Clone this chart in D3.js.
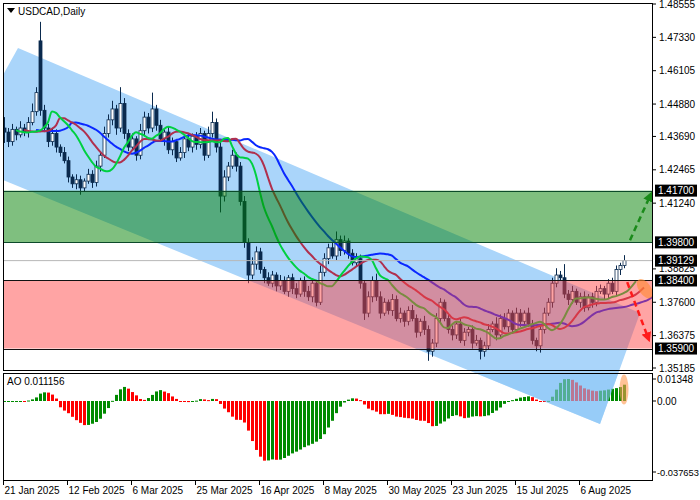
<!DOCTYPE html>
<html><head><meta charset="utf-8">
<script src="https://cdn.jsdelivr.net/npm/d3@7"></script>
<style>body{margin:0;background:#fff}svg{display:block;font-family:"Liberation Sans",Arial,sans-serif}</style>
</head><body>
<script>
// daily closes, 21 Jan 2025 onwards
var closes = [
 1.4385,1.4350,1.4395,1.4375,1.4400,1.4385,1.4420,1.4460,1.4530,1.4465,1.4400,1.4350,
 1.4380,1.4330,1.4310,1.4280,1.4220,1.4195,1.4210,1.4180,1.4205,1.4230,1.4200,1.4260,
 1.4300,1.4380,1.4430,1.4470,1.4400,1.4490,1.4380,1.4330,1.4360,1.4300,1.4390,1.4440,
 1.4400,1.4470,1.4410,1.4360,1.4385,1.4320,1.4350,1.4290,1.4310,1.4360,1.4330,1.4370,
 1.4340,1.4380,1.4300,1.4380,1.4420,1.4330,1.4150,1.4220,1.4260,1.4300,1.4260,1.4130,
 1.3980,1.3860,1.3900,1.3945,1.3880,1.3850,1.3830,1.3860,1.3820,1.3840,1.3800,1.3850,
 1.3810,1.3790,1.3840,1.3800,1.3780,1.3830,1.3760,1.3870,1.3920,1.3960,1.3930,1.3990,
 1.3950,1.3985,1.3940,1.3905,1.3920,1.3830,1.3720,1.3780,1.3840,1.3780,1.3720,1.3760,
 1.3730,1.3770,1.3700,1.3720,1.3690,1.3730,1.3700,1.3650,1.3690,1.3660,1.3580,1.3610,
 1.3700,1.3760,1.3700,1.3660,1.3640,1.3680,1.3620,1.3650,1.3660,1.3610,1.3620,1.3580,
 1.3600,1.3660,1.3680,1.3640,1.3700,1.3670,1.3720,1.3660,1.3720,1.3690,1.3720,1.3680,
 1.3620,1.3600,1.3660,1.3720,1.3760,1.3830,1.3860,1.3850,1.3790,1.3770,1.3800,1.3760,
 1.3780,1.3740,1.3780,1.3760,1.3800,1.3810,1.3790,1.3830,1.3800,1.3880,1.3895,1.3913
];
// wick lengths in pips (0.0001)
var wickUp = [
 40,15,20,10,25,15,20,30,20,70,20,15, 20,15,10,20,15,10,20,15,10,20,15,20,
 15,25,20,30,15,60,20,15,20,10,25,20, 15,60,15,20,10,20,15,10,20,15,20,10,
 15,20,10,25,40,15,20,25,15,20,10,15, 20,15,25,20,15,10,20,15,10,20,15,10,
 15,20,10,15,20,15,10,25,20,15,20,30, 15,20,10,15,20,15,10,20,15,25,20,15,
 10,20,15,20,10,15,20,15,10,20,15,15, 20,15,10,20,15,10,20,15,10,15,20,10,
 15,20,10,25,15,20,15,10,20,15,10,20, 15,10,15,20,15,20,25,15,50,15,20,10,
 15,20,10,15,20,15,10,15,20,15,10,20
];
var wickDn = [
 40,20,15,20,10,15,20,10,15,20,15,20, 15,20,15,10,20,15,20,25,15,10,20,15,
 20,10,15,20,25,15,20,15,10,20,15,20, 20,15,20,10,25,15,20,15,10,20,15,20,
 20,15,20,10,15,20,60,20,15,10,20,15, 20,30,15,20,15,20,10,15,20,15,10,20,
 20,15,10,20,15,20,15,10,15,20,10,15, 20,15,20,10,15,20,25,15,20,15,20,10,
 15,20,10,15,20,15,10,20,15,20,35,20, 15,20,10,15,20,15,10,20,15,20,10,30,
 20,15,10,20,15,10,20,15,10,20,15,10, 15,20,25,15,10,20,15,10,15,20,15,10,
 20,15,10,20,15,10,20,15,10,15,20,10
];
var openGaps = {0: 1.4400, 9: 1.4720};

var priceTicks = [1.48555,1.47330,1.46105,1.44880,1.43690,1.42465,1.41240,1.38825,1.37600,1.36375,1.35185];
var levels = [1.41700, 1.39800, 1.38400, 1.35900];
var lastPrice = 1.39129;
var aoTicks = [[0.01348,"0.01348"],[0,"0.00"],[-0.037653,"-0.037653"]];
var dateTicks = [[0,"21 Jan 2025"],[16,"12 Feb 2025"],[32,"6 Mar 2025"],[48,"25 Mar 2025"],[64,"16 Apr 2025"],
  [80,"8 May 2025"],[96,"30 May 2025"],[112,"23 Jun 2025"],[128,"15 Jul 2025"],[144,"6 Aug 2025"]];
// channel drawn as [bar, price]
var channel = [[-0.25,1.45947],[3.5,1.46939],[159,1.37205],[149,1.33128],[-0.25,1.42090]];

var bars = closes.map(function(c,i){
  var o = openGaps[i] !== undefined ? openGaps[i] : closes[i-1];
  return {i:i, o:o, c:c, h:Math.max(o,c)+wickUp[i]/10000, l:Math.min(o,c)-wickDn[i]/10000};
});
var med = bars.map(function(b){ return (b.h+b.l)/2; });

function smma(n){ var r=[], v=med[0]; med.forEach(function(m,i){ v = i ? (v*(n-1)+m)/n : m; r.push(v); }); return r; }
function sma(n){ return med.map(function(m,i){ var s=med.slice(Math.max(0,i-n+1),i+1); return d3.mean(s); }); }
var jaw = smma(13), teeth = smma(8), lips = smma(5);
var s5 = sma(5), s34 = sma(34);
var ao = med.map(function(m,i){ return s5[i]-s34[i]; });

var W=700,H=500, L=3, R=652, T=3, B=370, aoT=373, aoB=480;
var svg = d3.select("body").append("svg").attr("width",W).attr("height",H);
var x = d3.scaleLinear().domain([0,155]).range([4,624]);
var y = d3.scaleLinear().domain([1.35185,1.48555]).range([368,4]);
var ya = d3.scaleLinear().domain([0,0.01348]).range([401,379]);
var chLine = d3.line().x(function(d){return x(d[0]);}).y(function(d){return y(d[1]);}).curve(d3.curveLinearClosed);

var defs = svg.append("defs");
defs.append("clipPath").attr("id","cm").append("rect").attr("x",L).attr("y",T).attr("width",R-L).attr("height",B-T);
defs.append("clipPath").attr("id","ca").append("rect").attr("x",L).attr("y",aoT).attr("width",R-L).attr("height",H-aoT);

// channel under price marks
svg.append("path").datum(channel).attr("fill","#aad5fa").attr("d",chLine);

var mg = svg.append("g").attr("clip-path","url(#cm)");
var cg = mg.selectAll("g.c").data(bars).enter().append("g");
cg.append("line").attr("x1",function(d){return x(d.i)+0.5;}).attr("x2",function(d){return x(d.i)+0.5;})
  .attr("y1",function(d){return y(d.h);}).attr("y2",function(d){return y(d.l);}).attr("stroke","#0a2a4e");
cg.append("rect").attr("x",function(d){return x(d.i)-1;}).attr("width",3)
  .attr("y",function(d){return y(Math.max(d.o,d.c));})
  .attr("height",function(d){return Math.max(1,Math.abs(y(d.o)-y(d.c)));})
  .attr("fill",function(d){return d.c>=d.o?"#fff":"#0a2a4e";}).attr("stroke","#0a2a4e").attr("stroke-width",0.8);

// alligator
[[jaw,8,"#0a28ff"],[teeth,5,"#b0304e"],[lips,3,"#00d040"]].forEach(function(a){
  mg.append("path").datum(a[0]).attr("fill","none").attr("stroke",a[2]).attr("stroke-width",2)
    .attr("d", d3.line().x(function(d,i){return x(i+a[1]);}).y(function(d){return y(d);}).curve(d3.curveMonotoneX));
});
mg.append("line").attr("x1",L).attr("x2",R).attr("y1",y(lastPrice)).attr("y2",y(lastPrice)).attr("stroke","#b8b8b8");

// AO panel
var ag = svg.append("g");
ag.selectAll("rect").data(ao).enter().append("rect")
  .attr("x",function(d,i){return x(i)-1;}).attr("width",3)
  .attr("y",function(d){return Math.min(ya(d),ya(0));})
  .attr("height",function(d){return Math.max(1,Math.abs(ya(d)-ya(0)));})
  .attr("fill",function(d,i){return i>0 && d<ao[i-1] ? "#ff0000" : "#008a00";});
svg.append("path").datum(channel).attr("clip-path","url(#ca)").attr("fill","#8ac6f6").attr("opacity",0.6).attr("d",chLine);

// zones
svg.append("rect").attr("x",L).attr("width",R-L).attr("y",y(levels[0])).attr("height",y(levels[1])-y(levels[0]))
  .attr("fill","#008000").attr("opacity",0.5);
svg.append("rect").attr("x",L).attr("width",R-L).attr("y",y(levels[2])).attr("height",y(levels[3])-y(levels[2]))
  .attr("fill","#ff4040").attr("opacity",0.48);
levels.forEach(function(v,k){
  svg.append("line").attr("x1",L).attr("x2",R).attr("y1",Math.round(y(v))+0.5).attr("y2",Math.round(y(v))+0.5)
    .attr("stroke",k<2?"#0c4a2a":"#111");
});

// arrows
[["ag","#1a8a1a"],["ar","#ff1a1a"]].forEach(function(m){
  defs.append("marker").attr("id",m[0]).attr("viewBox","0 0 10 10").attr("refX",5).attr("refY",5)
    .attr("markerWidth",4).attr("markerHeight",4).attr("orient","auto")
    .append("path").attr("d","M0,0L10,5L0,10z").attr("fill",m[1]);
});
svg.append("line").attr("x1",x(156.5)).attr("y1",y(1.3988)).attr("x2",x(161.5)).attr("y2",y(1.4150))
  .attr("stroke","#1a8a1a").attr("stroke-width",2.5).attr("stroke-dasharray","6,4").attr("marker-end","url(#ag)");
svg.append("line").attr("x1",x(155.8)).attr("y1",y(1.3834)).attr("x2",x(161)).attr("y2",y(1.3630))
  .attr("stroke","#ff1a1a").attr("stroke-width",2.5).attr("stroke-dasharray","6,4").attr("marker-end","url(#ar)");
svg.append("ellipse").attr("cx",x(160.2)).attr("cy",y(1.3810)).attr("rx",11).attr("ry",6)
  .attr("transform","rotate(55,"+x(160.2)+","+y(1.3810)+")").attr("fill","#ff8a30").attr("opacity",0.6);
svg.append("ellipse").attr("cx",x(155)).attr("cy",ya(0.007)).attr("rx",4.5).attr("ry",15)
  .attr("fill","#ff9a50").attr("opacity",0.6);

// frames
svg.append("rect").attr("x",L+0.5).attr("y",T+0.5).attr("width",R-L).attr("height",B-T).attr("fill","none").attr("stroke","#000");
svg.append("rect").attr("x",L+0.5).attr("y",aoT+0.5).attr("width",R-L).attr("height",aoB-aoT).attr("fill","none").attr("stroke","#000");

// axes
var fs = 10;
priceTicks.forEach(function(v){
  svg.append("line").attr("x1",R).attr("x2",R+4).attr("y1",y(v)).attr("y2",y(v)).attr("stroke","#000");
  svg.append("text").attr("x",R+7).attr("y",y(v)+3.5).attr("font-size",fs).text(v.toFixed(5));
});
levels.concat([lastPrice]).forEach(function(v){
  svg.append("rect").attr("x",R+3).attr("y",y(v)-6).attr("width",42).attr("height",12).attr("fill","#000");
  svg.append("text").attr("x",R+6).attr("y",y(v)+3.5).attr("font-size",fs).attr("fill","#fff").text(v.toFixed(5));
});
aoTicks.forEach(function(t){
  var yy = t[0]<-0.02 ? 472 : ya(t[0]);
  svg.append("line").attr("x1",R).attr("x2",R+4).attr("y1",yy).attr("y2",yy).attr("stroke","#000");
  svg.append("text").attr("x",R+5).attr("y",yy+3.5).attr("font-size",t[0]<-0.02?9.3:fs).text(t[1]);
});
dateTicks.forEach(function(t){
  var xx = Math.round(x(t[0]))-0.5;
  svg.append("line").attr("x1",xx).attr("x2",xx).attr("y1",aoB).attr("y2",aoB+5).attr("stroke","#000");
  svg.append("text").attr("x",xx+1).attr("y",494).attr("font-size",fs).text(t[1]);
});
svg.append("path").attr("d","M7,8L15,8L11,13z").attr("fill","#000");
svg.append("text").attr("x",18).attr("y",15).attr("font-size",fs).text("USDCAD,Daily");
svg.append("text").attr("x",7).attr("y",385).attr("font-size",fs).text("AO 0.011156");
</script>
</body></html>
